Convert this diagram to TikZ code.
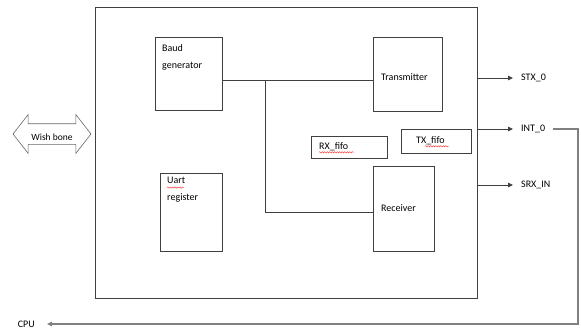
\documentclass[tikz,border=0pt]{standalone}
\usepackage{fontspec}
\setmainfont{Carlito}
\usetikzlibrary{arrows.meta,shapes.arrows,decorations.pathmorphing}
\begin{document}
\begin{tikzpicture}[x=1pt,y=-1pt,
  every node/.style={font=\fontsize{10}{17}\selectfont},
  edge/.style={draw=black!75,line width=0.8pt},
  block/.style={edge,fill=white,anchor=north west,inner sep=0pt},
  blocktext/.style={anchor=north west,align=left,inner sep=0pt},
  sig/.style={edge,-{Triangle[length=5pt,width=4.5pt]}},
  port/.style={anchor=west,inner xsep=8pt,inner ysep=2pt},
  spell/.style={draw=red!85,line width=0.4pt,decorate,
    decoration={snake,amplitude=0.7pt,segment length=2.5pt}}]
\useasboundingbox (0,0) rectangle (581,333);

% UART core outline
\node[block,minimum width=382pt,minimum height=291pt] (uart) at (95,7) {};

% internal blocks
\node[block,minimum width=67pt,minimum height=73pt] (baud) at (155,37) {};
\node[blocktext] at (162,44) {Baud\\generator};
\node[block,minimum width=62pt,minimum height=78pt] (ureg) at (160,173) {};
\node[blocktext] (uregtxt) at (167,177) {Uart\\register};
\node[block,minimum width=69pt,minimum height=74pt] (tx) at (373,37) {};
\node[anchor=west,inner sep=0pt] at (381,77) {Transmitter};
\node[block,minimum width=61pt,minimum height=85pt] (rx) at (373,166) {};
\node[anchor=west,inner sep=0pt] at (381,208) {Receiver};
\node[block,minimum width=76pt,minimum height=22pt] (rxf) at (311,136) {};
\node[anchor=west,inner sep=0pt] (rxftxt) at (319,147) {RX\_fifo};
\node[block,minimum width=70pt,minimum height=24pt] (txf) at (401,129) {};
\node[anchor=west,inner sep=0pt] (txftxt) at (416,141) {TX\_fifo};

% spelling marks
\draw[spell] (167,187.5) -- (184,187.5);
\draw[spell] (rxftxt.base west) ++(0,2.5) -- ++(35,0);
\draw[spell] (txftxt.base west) ++(9,2.5) -- ++(24,0);

% clock distribution from the baud generator
\coordinate (j) at (265,80);
\coordinate (k) at (265,212);
\draw[edge] (j -| baud.east) -- (j -| tx.west);
\draw[edge] (j) -- (k) -- (k -| rx.west);

% bus interface
\node[draw=black!60,line width=0.6pt,double arrow,double arrow head extend=9pt,
  double arrow tip angle=104,minimum width=38pt,minimum height=78pt,
  inner xsep=0pt,inner ysep=0pt,text height=13pt,text depth=7pt,
  font=\fontsize{9.5}{11}\selectfont] (wb) at (52,134) {\raisebox{-3pt}{Wish bone}};

% output signals
\node[port] (stx) at (513,78) {STX\_0};
\node[port] (int) at (513,129) {INT\_0};
\node[port] (srx) at (513,185) {SRX\_IN};
\node[anchor=east,inner xsep=12pt] (cpu) at (47,324) {CPU};
\coordinate (c1) at (578,129);
\coordinate (c2) at (578,324);

\draw[sig] (uart.east |- stx) -- (stx.west);
\draw[sig] (uart.east |- int) -- (int.west);
\draw[sig] (uart.east |- srx) -- (srx.west);
\draw[edge,draw=black!50,line width=1.3pt,-{Triangle[length=5pt,width=4.5pt]}]
  (int.east) -- (c1) -- (c2) -- (cpu.east);
\end{tikzpicture}
\end{document}
